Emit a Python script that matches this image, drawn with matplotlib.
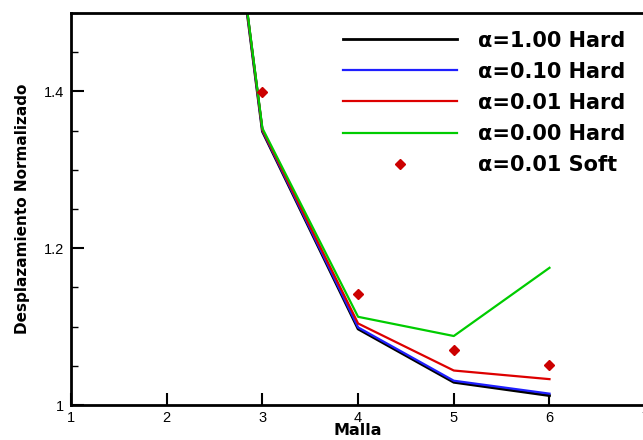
import matplotlib
matplotlib.use('Agg')
import matplotlib.pyplot as plt
from matplotlib.ticker import MultipleLocator

plt.rcParams['font.family'] = ['Liberation Sans', 'DejaVu Sans']

# data
malla = [2, 3, 4, 5, 6]
hard_100 = [2.30, 1.349, 1.097, 1.029, 1.012]
hard_010 = [2.30, 1.350, 1.099, 1.031, 1.0145]
hard_001 = [2.30, 1.351, 1.104, 1.044, 1.033]
hard_000 = [2.30, 1.353, 1.1125, 1.088, 1.175]
soft_x = [3, 4, 5, 6]
soft_001 = [1.399, 1.141, 1.070, 1.051]

series = [
    (hard_100, 'black', 2.0, r'α=1.00 Hard'),
    (hard_010, '#1f1fff', 1.6, r'α=0.10 Hard'),
    (hard_001, '#dd0000', 1.6, r'α=0.01 Hard'),
    (hard_000, '#00cc00', 1.6, r'α=0.00 Hard'),
]

fig = plt.figure(figsize=(6.43, 4.40), dpi=100)
ax = fig.add_axes([0.1104, 0.0795, 0.893, 0.891])

for vals, col, lw, lab in series:
    ax.plot(malla, vals, color=col, lw=lw, label=lab)
ax.plot(soft_x, soft_001, linestyle='none', marker='D', markersize=5,
        color='#cc0000', label=r'α=0.01 Soft')

ax.set_xlim(1, 7)
ax.set_ylim(1, 1.5)
ax.xaxis.set_major_locator(MultipleLocator(1))
ax.yaxis.set_minor_locator(MultipleLocator(0.05))
ax.set_yticks([1, 1.2, 1.4])
ax.set_yticklabels(['1', '1.2', '1.4'])
ax.tick_params(which='major', direction='in', length=9, width=1.5, labelsize=10.5)
ax.tick_params(which='minor', direction='in', length=5, width=1)
ax.tick_params(axis='x', pad=4)
ax.tick_params(axis='y', pad=5)
for s in ax.spines.values():
    s.set_linewidth(2)

bold = {'family': 'DejaVu Sans', 'weight': 'bold'}
ax.set_xlabel('Malla', fontdict=bold, fontsize=11.5, labelpad=-1)
ax.set_ylabel('Desplazamiento Normalizado', fontdict=bold, fontsize=11, labelpad=10)

leg = ax.legend(loc='upper right', bbox_to_anchor=(0.991, 0.992), frameon=False,
                handlelength=5.5, handletextpad=1.0, labelspacing=0.53,
                prop={'family': 'DejaVu Sans', 'size': 15, 'weight': 'bold'},
                borderaxespad=0.3)

fig.savefig('out.png', dpi=100)
